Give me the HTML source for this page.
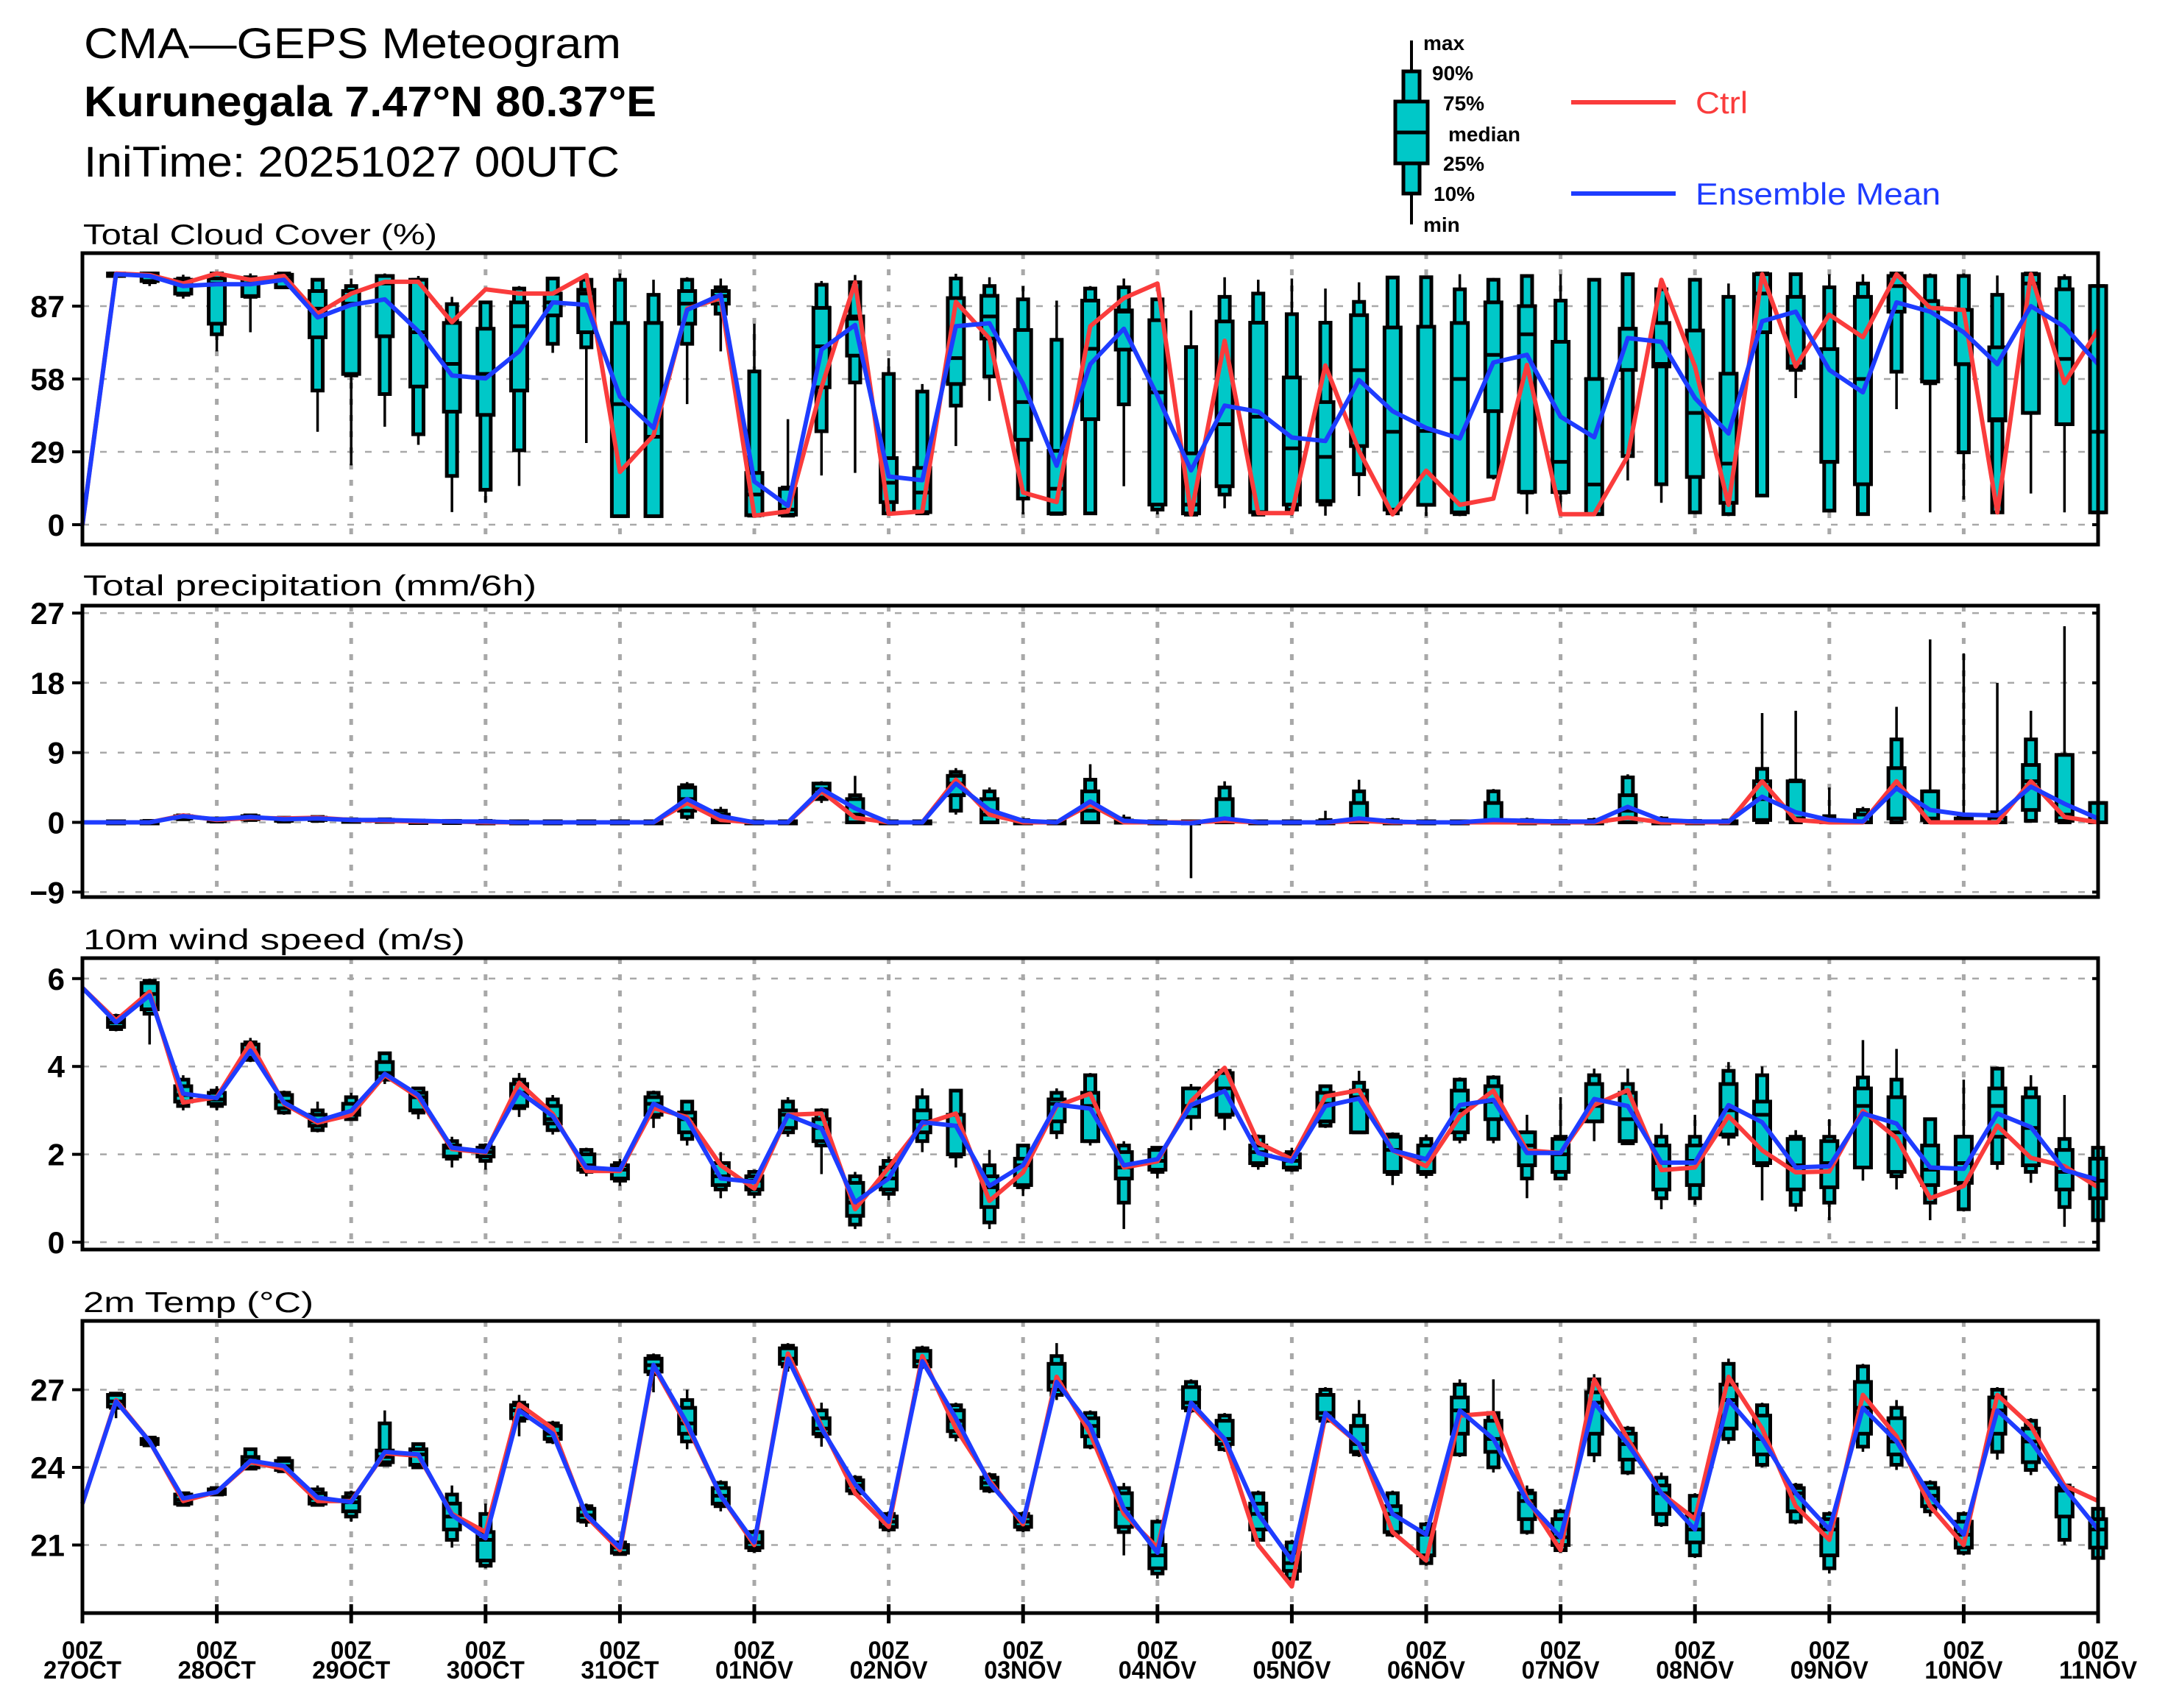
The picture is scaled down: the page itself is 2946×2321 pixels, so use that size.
<!DOCTYPE html>
<html>
<head>
<meta charset="utf-8">
<title>CMA-GEPS Meteogram</title>
<style>
html,body{margin:0;padding:0;background:#fff;}
svg{display:block;font-family:"Liberation Sans",sans-serif;font-weight:bold;}
</style>
</head>
<body>
<svg id="chart" xmlns="http://www.w3.org/2000/svg" width="2946" height="2321" viewBox="0 0 2946 2321">
  <rect x="0" y="0" width="2946" height="2321" fill="#fff"/>
  <g font-weight="normal">
    <text x="114" y="79" font-size="58" textLength="730" lengthAdjust="spacingAndGlyphs">CMA—GEPS Meteogram</text>
    <text x="114" y="158" font-size="58" font-weight="bold" textLength="778" lengthAdjust="spacingAndGlyphs">Kurunegala 7.47°N 80.37°E</text>
    <text x="114" y="240" font-size="58" textLength="728" lengthAdjust="spacingAndGlyphs">IniTime: 20251027 00UTC</text>
  </g>
  <g id="legend"></g>
  <g id="plots"></g>
</svg>
<script>
// ---------- time axis ----------
const dayLabels = ["27OCT","28OCT","29OCT","30OCT","31OCT","01NOV","02NOV","03NOV","04NOV","05NOV","06NOV","07NOV","08NOV","09NOV","10NOV","11NOV"];
const hourLabel = "00Z";

// ---------- Total cloud cover (%) ----------
const cloudMean = [0,99.7,99,95,95.7,95.7,97.5,82.5,87.5,89.7,77,59.4,58.2,69,88.5,87.5,51,38.5,85.5,91.5,17.2,7.5,69.7,79.5,19.2,17.7,79,80.2,56.1,23.5,63.9,78,51.3,21.6,47.4,45,34.7,33.3,57.6,45.2,38.5,34.3,64.6,67.6,43,34.8,74.3,72.8,50.4,36.3,81,84.8,61.6,52.7,88.5,84.8,76.6,63.9,87,78.8,63.9];
const cloudCtrl = [0,100,99.4,96,100,97.5,99,84,92,96.7,96.7,80.6,93.7,92,92,99.4,21,35.5,86,90.2,3.6,5.3,54.7,96.5,4.3,5.3,88.7,74.1,12.8,9,79,90.2,96,4.1,73.2,4.6,4.6,63.4,29.4,4.1,21.5,7.9,10.4,63.6,4.2,4.2,27.3,97.5,63,7.9,99.7,63,83.6,74.6,99.7,86.3,85.5,4.9,99.7,56.4,77.6];
const cloudMax = [0,100,100,99.5,100,100,100,98,98,100,99,90.7,89,95,98,99,100,97.5,98.5,98,80,42,97,99.4,66.3,56,99.9,98.5,95,89.2,95,98,89.7,85.3,98.5,97.5,98,94,96.5,98.6,98.5,99.7,98.2,99.7,99.7,97.5,99.7,97.5,98.2,96,100,100,99.7,99.7,100,100,100,99.2,100,99.7,100];
const cloudP90 = [0,100,100,98,100,98.5,100,97.5,95,99,97.5,87.8,88.5,94,98,97.5,97.5,91.5,97.5,94.5,61,14.8,95.5,96.5,60,53,98,95,89.7,73.6,94,94.5,89.7,70.7,90.7,92,83.8,80.4,88.7,98.4,98.5,93.7,97.5,99,89.2,97.5,99.7,93.7,97.5,90.7,100,99.7,94.5,96,100,99,99,91.5,100,98.2,95];
const cloudP75 = [0,100,100,97.5,98,98,99.5,93,93,99,97.5,80.3,78,88.5,92,93.5,80.3,80.3,93,93,20.6,14.3,86.3,82.9,26.5,22.6,90.2,91.1,77.5,29.4,89.2,85.3,81.4,28.4,80.9,80.4,58.6,48.8,83.4,78.5,78.8,80.3,88.5,87,72.8,58,78,80.3,77.3,60.1,99.7,90.7,69.9,90.7,99,89,85.5,70.6,99.7,93.7,95];
const cloudMed = [0,99.5,99,95.5,96,96,98,86,88,96,76.6,64,60,79,88.5,92,48,35,88,91,12,6,71,82,16.7,12.8,66.3,82.9,48.8,14.3,70,84.8,52.7,8,40,43,30.4,27,61.5,37,37.3,58,67.6,75.8,25,16,78,64,44.5,24.3,92,63,25,58,95,89,63.9,42,96,66,37];
const cloudP25 = [0,99,97,92,80,91,94.5,74.6,60,75,55,45,43.7,53.4,83.3,76.6,3.4,3.4,80,88,3.8,4,54.7,67.3,9,5,56,74.1,33.8,4.5,42,69.7,8,4.5,15.3,5,8,9.4,31.3,6,7.9,4.9,45.2,13.1,13,4.2,61.6,63,19,8.7,76.6,62.4,25,16.1,84.8,57,63.9,41.5,44.5,40,4.9];
const cloudP10 = [0,99,96.5,91.5,75.8,90.7,94.5,53.4,59.4,52,36,19.4,13.9,29.6,72,70.6,3.4,3.4,72,84,3.6,3.6,37.2,56.6,4.5,4.5,47.4,59,10.4,4.3,4.5,47.9,6,4,12,4,6,8,20.1,4.5,7.9,4.2,19.1,12.8,12.8,4.2,27.3,16.1,4.9,4.2,11.6,61.6,5.6,4.2,60.9,56.3,28.8,4.9,44.5,40,4.9];
const cloudMin = [0,98.5,95,90,69,76.6,94,37,23.6,39,31.8,5,8.7,15.4,68.4,32.5,3.4,3.4,48,69,3.6,3.6,19.6,20.6,4,4,31.3,49.3,4.1,4.1,4.1,15.3,4.1,3.6,6.5,3.6,3.6,3.6,11.4,4.1,3.4,3.4,18,4.2,4.9,3.4,17.6,8.7,4.2,3.4,11.6,50.4,4.9,4.2,46,4.9,10,4.9,12.4,4.9,4.9];
const cloudTicks = [0,29,58,87];

// ---------- Total precipitation (mm/6h) ----------
const precipMean = [0,0,0,0.8,0.4,0.7,0.4,0.5,0.3,0.3,0.2,0.1,0.1,0,0,0,0,0,3.0,0.8,0,0,4.3,1.8,0,0,5.0,1.6,0.2,0,2.7,0.2,0,-0.1,0.5,0,0,0,0.5,0.1,0,0,0.3,0.2,0.1,0.1,2.0,0.3,0.1,0.1,3.3,1.3,0.3,0.1,4.4,1.6,1.0,0.9,4.6,2.4,0.5];
const precipCtrl = [0,0,0,0.9,0.3,0.6,0.5,0.6,0.3,0.2,0.1,0.1,0,0,0,0,0,0,2.5,0.3,0,0,4.0,0.6,0,0,5.5,1.0,0,0,2.3,0,0,0,0.2,0,0,0,0.2,0,0,0,0,0,0,0,0.6,0,0,0,5.3,0.3,0,0,5.3,0,0,0,5.3,0.7,0];
const precipMax = [0,0.1,0.2,1.0,0.6,1.0,0.7,0.8,0.5,0.5,0.3,0.2,0.2,0,0,0,0,0,5.2,2.0,0,0,5.3,6.0,0,0,7.0,4.5,0.6,0,7.5,1.0,0.2,0,5.3,0,0.1,1.5,5.5,0.6,0,0.3,4.3,0.6,0.2,0.6,6.2,0.8,0.2,0.3,14.1,14.4,4.5,2.0,14.9,23.6,21.8,18.0,14.4,25.3,2.7];
const precipP90 = [0,0,0.1,0.9,0.5,0.9,0.6,0.7,0.4,0.4,0.2,0.1,0.1,0,0,0,0,0,4.8,1.5,0,0,5.0,3.5,0,0,6.5,4.0,0.3,0,5.5,0.5,0,0,4.5,0,0,0.3,4.0,0.3,0,0,4.0,0.3,0.1,0.3,5.8,0.5,0.1,0.2,6.9,5.4,0.8,1.6,10.7,4.0,0.8,1.3,10.7,8.7,2.5];
const precipP75 = [0,0,0,0.8,0.4,0.8,0.5,0.6,0.3,0.3,0.1,0.1,0,0,0,0,0,0,4.5,1.0,0,0,5.0,3.0,0,0,6.0,3.0,0,0,4.0,0.2,0,0,3.0,0,0,0,2.5,0,0,0,2.5,0,0,0,3.5,0,0,0,5.3,5.3,0.3,1.0,7.0,4.0,0.5,0.6,7.4,8.7,2.5];
const precipMed = [0,0,0,0.7,0.3,0.6,0.3,0.4,0.2,0.2,0,0,0,0,0,0,0,0,3.0,0.5,0,0,4.3,1.0,0,0,5.0,1.0,0,0,1.5,0,0,0,0,0,0,0,0,0,0,0,0,0,0,0,1.5,0,0,0,3.0,0.5,0,0,4.5,0.5,0,0,5.3,1.0,0];
const precipP25 = [0,0,0,0.5,0.2,0.4,0.2,0.3,0.1,0.1,0,0,0,0,0,0,0,0,1.5,0,0,0,3.2,0,0,0,3.5,0,0,0,0,0,0,0,0,0,0,0,0,0,0,0,0,0,0,0,0,0,0,0,0.3,0.5,0,0,0.5,0.3,0,0,1.6,0.2,0];
const precipP10 = [0,0,0,0.4,0.1,0.3,0.1,0.2,0.1,0.1,0,0,0,0,0,0,0,0,0.7,0,0,0,3.0,0,0,0,1.5,0,0,0,0,0,0,0,0,0,0,0,0,0,0,0,0,0,0,0,0,0,0,0,0,0,0,0,0,0,0,0,0.2,0,0];
const precipMin = [0,0,0,0.3,0,0.2,0,0.1,0,0,0,0,0,0,0,0,0,0,0.3,0,0,0,2.5,0,0,0,1.0,0,0,0,0,0,0,-7.2,0,0,0,0,0,0,0,0,0,0,0,0,0,0,0,0,0,0,0,0,0,0,0,0,0,0,0];
const precipTicks = [-9,0,9,18,27];

// ---------- 10m wind speed (m/s) ----------
const windMean = [5.79,5.0,5.62,3.38,3.28,4.36,3.18,2.76,2.99,3.83,3.35,2.15,2.06,3.43,2.87,1.70,1.65,3.15,2.79,1.45,1.37,2.89,2.59,0.91,1.45,2.73,2.65,1.28,1.75,3.13,3.04,1.75,1.89,3.12,3.44,2.03,1.84,3.10,3.27,2.09,1.89,3.12,3.24,2.03,2.03,3.26,3.10,1.81,1.81,3.12,2.73,1.70,1.73,2.93,2.70,1.70,1.67,2.93,2.62,1.64,1.42];
const windCtrl = [5.79,5.05,5.70,3.18,3.30,4.53,3.15,2.72,2.90,3.80,3.30,2.12,2.04,3.63,2.92,1.62,1.62,3.05,2.85,1.75,1.22,2.90,2.93,0.75,1.70,2.68,2.93,0.94,1.59,3.10,3.38,1.70,1.84,3.21,3.97,2.26,1.89,3.32,3.46,2.09,1.73,2.87,3.45,2.09,2.03,3.12,3.46,1.64,1.70,2.87,2.09,1.59,1.61,2.99,2.37,1.0,1.28,2.65,1.92,1.73,1.25];
const windMed = [5.79,5.0,5.65,3.35,3.25,4.35,3.2,2.75,2.95,3.85,3.3,2.15,2.05,3.4,2.8,1.75,1.65,3.15,2.8,1.5,1.4,2.9,2.6,0.9,1.45,2.75,2.65,1.25,1.75,3.15,3.1,1.7,1.85,3.1,3.5,2.05,1.85,3.15,3.3,2.1,1.9,3.0,3.2,2.2,2.0,3.1,2.8,1.8,1.85,3.0,2.9,1.75,1.8,3.1,2.5,1.65,1.8,3.1,2.6,1.6,1.4];
const windP25 = [5.79,4.9,5.3,3.2,3.15,4.2,3.05,2.65,2.9,3.7,3.0,1.95,1.95,3.1,2.7,1.65,1.45,2.9,2.5,1.3,1.2,2.6,2.3,0.6,1.2,2.5,2.0,0.8,1.3,2.75,2.3,1.45,1.65,2.85,2.9,1.8,1.7,2.75,2.5,1.6,1.6,2.5,2.8,1.75,1.6,2.75,2.3,1.2,1.3,2.45,1.8,1.2,1.25,1.7,1.6,1.3,1.35,2.4,1.75,1.2,1.0];
const windP75 = [5.79,5.1,5.9,3.55,3.4,4.5,3.35,2.9,3.15,4.1,3.4,2.2,2.15,3.6,3.1,2.0,1.75,3.3,2.95,1.8,1.5,3.0,2.8,1.35,1.7,3.0,2.9,1.5,1.9,3.25,3.4,2.05,2.1,3.5,3.85,2.2,2.0,3.4,3.45,2.4,2.2,3.45,3.55,2.5,2.35,3.6,3.4,2.2,2.2,3.6,3.2,2.35,2.3,3.5,3.3,2.2,2.4,3.5,3.3,2.1,1.9];
const windP10 = [5.79,4.85,5.2,3.1,3.1,4.15,2.95,2.55,2.8,3.7,2.95,1.9,1.85,3.05,2.55,1.6,1.4,2.85,2.35,1.2,1.1,2.5,2.2,0.4,1.1,2.3,1.95,0.45,1.25,2.5,2.3,0.9,1.6,2.85,2.85,1.75,1.65,2.65,2.5,1.55,1.55,2.35,2.35,1.45,1.45,2.75,2.25,1.0,1.0,2.4,1.75,0.85,0.9,1.7,1.5,0.9,0.75,1.8,1.6,0.8,0.5];
const windP90 = [5.79,5.15,5.95,3.7,3.45,4.55,3.4,3.0,3.3,4.3,3.5,2.3,2.2,3.7,3.25,2.1,1.8,3.4,3.2,1.8,1.6,3.2,3.0,1.5,1.85,3.3,3.45,1.75,2.2,3.4,3.8,2.2,2.15,3.5,3.9,2.4,2.05,3.55,3.63,2.45,2.35,3.7,3.75,2.5,2.4,3.8,3.6,2.4,2.4,3.9,3.8,2.4,2.4,3.75,3.7,2.8,2.4,3.95,3.5,2.35,2.15];
const windMin = [5.79,4.8,4.5,3.0,3.0,4.1,2.9,2.5,2.8,3.6,2.8,1.7,1.65,2.85,2.45,1.5,1.28,2.6,2.2,1.0,1.0,2.4,1.55,0.3,0.95,2.05,1.7,0.3,1.05,2.35,2.2,0.3,1.45,2.55,2.55,1.65,1.6,2.6,2.5,1.3,1.45,2.25,2.25,1.0,1.45,2.3,2.25,0.75,0.85,2.2,0.95,0.7,0.5,1.4,1.2,0.5,0.7,1.65,1.35,0.35,0.5];
const windMax = [5.79,5.2,6.0,3.8,3.55,4.65,3.45,3.2,3.4,4.3,3.5,2.4,2.25,3.85,3.35,2.15,1.9,3.45,3.2,2.05,1.65,3.3,3.05,1.6,1.95,3.5,3.45,2.1,2.2,3.5,3.85,2.3,2.15,3.6,3.9,2.45,2.15,3.55,3.9,2.5,2.45,3.75,3.8,2.9,3.3,3.95,3.95,2.7,2.9,4.1,4.0,2.55,2.8,4.6,4.4,2.8,3.7,4.0,3.8,3.35,2.2];
const windTicks = [0,2,4,6];

// ---------- 2m Temp (°C) ----------
const tempMean = [22.6,26.55,25.0,22.8,23.05,24.26,24.05,22.83,22.66,24.6,24.5,22.16,21.26,26.2,25.3,22.16,20.9,27.96,25.7,22.9,21.1,28.2,25.5,23.35,21.9,28.1,25.9,23.4,21.9,27.3,25.6,22.4,20.7,26.5,25.1,22.2,20.4,26.1,24.9,22.2,21.4,26.2,25.1,22.7,21.3,26.5,24.9,23.0,21.6,26.6,25.1,23.0,21.6,26.3,25.0,22.9,21.4,26.2,25.0,23.2,21.6];
const tempCtrl = [22.6,26.6,25.0,22.7,23.05,24.2,23.95,22.7,22.7,24.55,24.45,22.2,21.5,26.44,25.5,22.1,20.8,27.9,25.6,22.9,21.0,28.4,25.6,23.0,21.7,28.3,25.5,23.5,21.8,27.5,25.3,22.2,20.9,26.4,25.0,21.0,19.4,26.0,24.9,21.5,20.4,26.0,26.1,22.8,20.8,27.4,25.1,23.0,22.0,27.5,25.5,22.5,21.2,26.8,25.2,22.5,21.0,26.8,25.6,23.3,22.7];
const tempMed = [22.6,26.55,25.0,22.75,23.05,24.25,24.05,22.8,22.65,24.4,24.5,22.1,21.2,26.2,25.3,22.15,20.9,27.95,25.7,22.9,21.1,28.2,25.5,23.3,21.9,28.1,25.8,23.4,21.9,27.3,25.6,22.4,20.6,26.5,25.1,22.2,20.3,26.1,24.9,22.2,21.4,26.2,25.1,22.7,21.3,26.5,24.9,23.0,21.6,26.6,25.1,23.0,21.6,26.3,25.0,22.9,21.4,26.2,25.0,23.1,21.6];
const tempP25 = [22.6,26.35,24.9,22.6,22.97,24.0,23.9,22.6,22.3,24.2,24.1,21.6,20.4,25.9,25.1,21.95,20.7,27.7,25.3,22.6,20.9,28.0,25.3,23.1,21.7,27.9,25.4,23.2,21.7,27.0,25.2,21.7,20.1,26.3,24.9,21.6,20.0,25.9,24.6,21.5,20.6,25.3,24.6,22.0,21.0,25.3,24.3,22.2,21.1,25.5,24.5,22.3,20.6,25.3,24.5,22.5,20.9,25.3,24.2,22.1,20.9];
const tempP75 = [22.6,26.8,25.1,22.95,23.15,24.4,24.25,23.0,22.85,24.65,24.7,22.6,21.5,26.4,25.6,22.4,21.0,28.2,26.3,23.2,21.5,28.6,25.9,23.5,22.1,28.5,26.2,23.6,22.1,28.0,25.9,23.0,21.0,27.1,25.8,22.6,20.7,26.8,25.6,22.5,21.5,26.7,25.8,23.0,22.0,26.9,25.3,23.3,22.2,27.2,26.0,23.2,22.0,27.3,25.9,23.2,21.9,26.7,25.5,23.2,22.0];
const tempP10 = [22.6,26.3,24.85,22.55,22.95,23.95,23.85,22.55,22.1,24.1,24.0,21.2,20.2,25.8,25.0,21.9,20.65,27.6,25.0,22.5,20.8,27.9,25.2,23.0,21.6,27.9,25.2,23.1,21.6,26.8,24.8,21.5,19.9,26.2,24.7,21.2,19.7,25.8,24.5,21.4,20.3,24.5,24.0,21.5,20.8,24.5,23.8,21.8,20.6,25.1,24.1,21.9,20.1,24.8,24.1,22.3,20.7,24.6,23.9,21.2,20.5];
const tempP90 = [22.6,26.85,25.15,23.0,23.2,24.7,24.35,23.15,23.0,25.7,24.9,22.95,22.2,26.5,25.7,22.5,21.1,28.3,26.6,23.4,21.5,28.7,26.2,23.6,22.2,28.6,26.4,23.7,22.2,28.3,26.1,23.2,21.9,27.3,26.0,23.0,21.1,27.0,26.0,23.0,21.8,27.2,26.1,23.1,22.3,27.4,25.5,23.6,22.9,28.0,26.4,23.3,22.2,27.9,26.3,23.4,22.2,27.0,25.8,23.3,22.4];
const tempMin = [22.6,25.9,24.8,22.5,22.9,23.9,23.8,22.5,21.9,24.05,23.95,20.9,20.1,25.2,24.9,21.7,20.6,26.9,24.7,22.3,20.7,27.7,24.8,22.9,21.5,27.8,25.0,23.0,21.5,26.6,24.7,20.6,19.7,26.1,24.6,21.1,19.6,25.7,24.4,21.3,20.2,24.4,23.8,21.4,20.7,24.2,23.7,21.7,20.5,24.9,24.0,21.8,19.9,24.6,23.9,22.1,20.6,24.3,23.7,21.0,20.4];
const tempMax = [22.6,26.9,25.2,23.05,23.25,24.75,24.4,23.3,23.1,26.2,24.95,23.3,22.6,26.8,25.8,22.6,21.15,28.4,27.0,23.5,21.6,28.8,26.5,23.7,22.3,28.7,26.5,23.8,22.3,28.8,26.2,23.4,22.0,27.4,26.1,23.1,21.2,27.1,26.6,23.1,21.9,27.4,27.4,23.3,22.4,27.6,25.6,23.8,23.0,28.2,26.5,23.4,22.3,28.0,26.6,23.5,22.3,27.1,25.9,23.4,22.5];
const tempTicks = [21,24,27];

// ---------- rendering ----------
const NS = "http://www.w3.org/2000/svg";
const TEAL = "#00c8c8", RED = "#fa3c3c", BLUE = "#1e3cff", GRID = "#a8a8a8";
const X0 = 112, X1 = 2851, NSTEP = 60;
function xAt(i){ return X0 + i * (X1 - X0) / NSTEP; }
function mk(tag, attrs, parent){
  const e = document.createElementNS(NS, tag);
  for (const k in attrs) e.setAttribute(k, attrs[k]);
  if (parent) parent.appendChild(e);
  return e;
}
const plots = document.getElementById("plots");

const panels = [
  {key:"cloud", title:"Total Cloud Cover (%)", titleY:332, titleW:481, top:344, bot:740,
   y0:713, v0:0, ppu:297/87, ticks:cloudTicks,
   mean:cloudMean, ctrl:cloudCtrl, mn:cloudMin, p10:cloudP10, p25:cloudP25, md:cloudMed, p75:cloudP75, p90:cloudP90, mx:cloudMax},
  {key:"precip", title:"Total precipitation (mm/6h)", titleY:809, titleW:616, top:823, bot:1219,
   y0:1117.5, v0:0, ppu:94.8/9, ticks:precipTicks,
   mean:precipMean, ctrl:precipCtrl, mn:precipMin, p10:precipP10, p25:precipP25, md:precipMed, p75:precipP75, p90:precipP90, mx:precipMax},
  {key:"wind", title:"10m wind speed (m/s)", titleY:1290, titleW:519, top:1302, bot:1698,
   y0:1688, v0:0, ppu:59.7, ticks:windTicks,
   mean:windMean, ctrl:windCtrl, mn:windMin, p10:windP10, p25:windP25, md:windMed, p75:windP75, p90:windP90, mx:windMax},
  {key:"temp", title:"2m Temp (°C)", titleY:1783, titleW:313, top:1795, bot:2192,
   y0:1994, v0:24, ppu:35.17, ticks:tempTicks,
   mean:tempMean, ctrl:tempCtrl, mn:tempMin, p10:tempP10, p25:tempP25, md:tempMed, p75:tempP75, p90:tempP90, mx:tempMax}
];

panels.forEach(function(p, pi){
  const yAt = function(v){ return p.y0 - (v - p.v0) * p.ppu; };
  const g = mk("g", {}, plots);
  
  

  const t = mk("text", {x:113, y:p.titleY, "font-size":39, "font-weight":"normal", textLength:p.titleW, lengthAdjust:"spacingAndGlyphs"}, g);
  t.textContent = p.title;
  
  

  p.ticks.forEach(function(v){
    const y = yAt(v);
    const gl = mk("line", {x1:X0, x2:X1, y1:y, y2:y, stroke:GRID, "stroke-width":2.5, "stroke-dasharray":"9 15"}, g);
    
    
    const tk = mk("line", {x1:X0-14, x2:X0, y1:y, y2:y, stroke:"#000", "stroke-width":4}, g);
    
    
    const tkr = mk("line", {x1:X1-8, x2:X1, y1:y, y2:y, stroke:"#000", "stroke-width":4}, g);
    
    
    const lab = mk("text", {x:X0-24, y:y+15, "font-size":42, "text-anchor":"end"}, g);
    lab.textContent = (v < 0 ? "\u2212" + Math.abs(v) : String(v));
    
    
  });
  for (let d = 1; d < 15; d++){
    const x = xAt(d * 4);
    const vl = mk("line", {x1:x, x2:x, y1:p.top, y2:p.bot, stroke:GRID, "stroke-width":5, "stroke-dasharray":"8 14"}, g);
    
    
  }

  const bg = mk("g", {}, g);
  
  
  for (let i = 1; i < p.md.length; i++){
    if (p.md[i] == null) continue;
    const x = xAt(i);
    const box = mk("g", {}, bg);
    
    
    const w = mk("line", {x1:x, x2:x, y1:yAt(p.mn[i]), y2:yAt(p.mx[i]), stroke:"#000", "stroke-width":3.5}, box);
    
    
    let a = yAt(p.p90[i]), b = yAt(p.p10[i]);
    if (b - a < 3){ const c=(a+b)/2; a=c-1.5; b=c+1.5; }
    const r1 = mk("rect", {x:x-7, y:a, width:14, height:b-a, fill:TEAL, stroke:"#000", "stroke-width":5}, box);
    
    
    let c1 = yAt(p.p75[i]), c2 = yAt(p.p25[i]);
    if (c2 - c1 < 3){ const c=(c1+c2)/2; c1=c-1.5; c2=c+1.5; }
    const r2 = mk("rect", {x:x-11, y:c1, width:22, height:c2-c1, fill:TEAL, stroke:"#000", "stroke-width":5}, box);
    
    
    const m = mk("line", {x1:x-11, x2:x+11, y1:yAt(p.md[i]), y2:yAt(p.md[i]), stroke:"#000", "stroke-width":5}, box);
    
    
  }

  function pts(arr){ return arr.map(function(v,i){ return xAt(i).toFixed(1)+","+yAt(v).toFixed(1); }).join(" "); }
  const lc = mk("polyline", {points:pts(p.ctrl), fill:"none", stroke:RED, "stroke-width":6, "stroke-linejoin":"round"}, g);
  
  
  const lm = mk("polyline", {points:pts(p.mean), fill:"none", stroke:BLUE, "stroke-width":6, "stroke-linejoin":"round"}, g);
  
  

  const fr = mk("rect", {x:X0, y:p.top, width:X1-X0, height:p.bot-p.top, fill:"none", stroke:"#000", "stroke-width":5}, g);
  
  

  if (pi === 3){
    for (let d = 0; d <= 15; d++){
      const x = xAt(d * 4);
      const tk = mk("line", {x1:x, x2:x, y1:p.bot-12, y2:p.bot+14, stroke:"#000", "stroke-width":5}, g);
      
      
      const l1 = mk("text", {x:x, y:2254, "font-size":34, "text-anchor":"middle", textLength:56, lengthAdjust:"spacingAndGlyphs"}, g);
      l1.textContent = hourLabel;
      
      
      const l2 = mk("text", {x:x, y:2281, "font-size":34, "text-anchor":"middle", textLength:106, lengthAdjust:"spacingAndGlyphs"}, g);
      l2.textContent = dayLabels[d];
      
      
    }
  }
});

// ---------- legend ----------
const lg = document.getElementById("legend");
(function(){
  const cx = 1918;
  const wl = mk("line", {x1:cx, x2:cx, y1:55, y2:305, stroke:"#000", "stroke-width":4}, lg);
  
  
  const o = mk("rect", {x:cx-11, y:97, width:22, height:166, fill:TEAL, stroke:"#000", "stroke-width":5}, lg);
  
  
  const ib = mk("rect", {x:cx-22, y:138, width:44, height:84, fill:TEAL, stroke:"#000", "stroke-width":5}, lg);
  
  
  const md = mk("line", {x1:cx-22, x2:cx+22, y1:180, y2:180, stroke:"#000", "stroke-width":5}, lg);
  
  
  const labs = [["max",1934,68],["90%",1946,109],["75%",1961,150],["median",1968,192],["25%",1961,232],["10%",1948,273],["min",1934,315]];
  labs.forEach(function(l){
    const t = mk("text", {x:l[1], y:l[2], "font-size":28}, lg);
    t.textContent = l[0];
    
    
  });
  const cl = mk("line", {x1:2135, x2:2277, y1:139, y2:139, stroke:RED, "stroke-width":6}, lg);
  
  
  const ct = mk("text", {x:2304, y:154, "font-size":42, fill:RED, "font-weight":"normal", textLength:71, lengthAdjust:"spacingAndGlyphs"}, lg);
  ct.textContent = "Ctrl";
  
  
  const ml = mk("line", {x1:2135, x2:2277, y1:263, y2:263, stroke:BLUE, "stroke-width":6}, lg);
  
  
  const mt = mk("text", {x:2304, y:278, "font-size":42, fill:BLUE, "font-weight":"normal", textLength:333, lengthAdjust:"spacingAndGlyphs"}, lg);
  mt.textContent = "Ensemble Mean";
  
  
})();
</script>
</body>
</html>
